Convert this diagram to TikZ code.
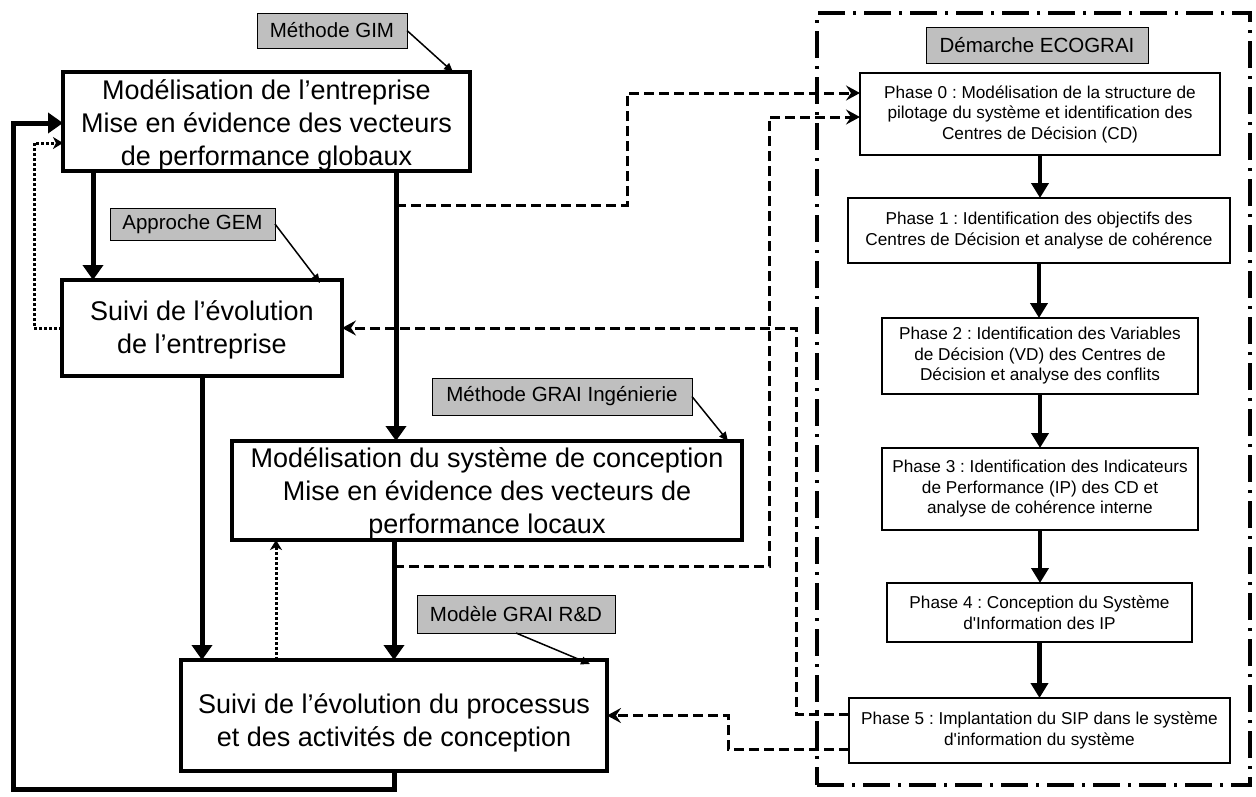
\documentclass[tikz,border=0pt]{standalone}
\usepackage{fontspec}
\setmainfont{Liberation Sans}
\newfontfamily\phasefont{Liberation Sans}[Ligatures=TeXOff]
\usetikzlibrary{arrows.meta,calc}
\frenchspacing
\newcommand\lowtext[2]{\raisebox{-#1}[\height][\depth]{\begin{tabular}{@{}c@{}}#2\end{tabular}}}
\tikzset{
 mainbox/.style={draw, line width=3.5pt, inner sep=0pt, outer sep=0pt, font=\fontsize{27}{33}\selectfont\frenchspacing},
 phasebox/.style={draw, line width=2pt, inner sep=0pt, outer sep=0pt, align=center, font=\phasefont\fontsize{17.2}{20.5}\selectfont\frenchspacing},
 tagbox/.style={draw, line width=1pt, fill=black!25, inner sep=0pt, outer sep=0pt, font=\fontsize{20.5}{24}\selectfont},
 bigarrow/.style={line width=5pt, -{Triangle[length=15pt,width=20pt]}},
 phasearrow/.style={line width=4.5pt, -{Triangle[length=15pt,width=17pt]}},
 dasharrow/.style={line width=3pt, dash pattern=on 10pt off 5pt, -{Stealth[length=14pt,width=15pt,inset=5pt]}},
 dotarrow/.style={line width=3pt, dash pattern=on 3pt off 2pt, -{Stealth[length=10pt,width=12pt,inset=3pt]}},
 thinarrow/.style={line width=1.5pt, -{Triangle[length=9pt,width=8pt]}},
 ecoframe/.style={draw, line width=3.5pt, inner sep=0pt, outer sep=0pt, dash pattern=on 27pt off 8pt on 3pt off 8pt},
}
\begin{document}
\begin{tikzpicture}[x=1pt,y=-1pt]
\useasboundingbox (0,0) rectangle (1256,796);

% frame of the ECOGRAI approach
\node[ecoframe, minimum width=433pt, minimum height=772pt] (eco) at (1033.5,399) {};

% main boxes
\node[mainbox, minimum width=407pt, minimum height=93pt] (A) at (266.5,121.5)
  {\lowtext{4pt}{Modélisation de l’entreprise\\Mise en évidence des vecteurs\\de performance globaux}};
\node[mainbox, minimum width=280pt, minimum height=96pt] (B) at (202,328)
  {\lowtext{2.5pt}{Suivi de l’évolution\\de l’entreprise}};
\node[mainbox, minimum width=510pt, minimum height=95pt] (C) at (487,490.5)
  {\lowtext{3pt}{Modélisation du système de conception\\Mise en évidence des vecteurs de\\performance locaux}};
\node[mainbox, minimum width=426pt, minimum height=111pt] (D) at (394,715.5)
  {\lowtext{8pt}{Suivi de l’évolution du processus\\et des activités de conception}};

% phase boxes
\node[phasebox, minimum width=360pt, minimum height=82pt] (P0) at (1040,114)
  {Phase 0 : Modélisation de la structure de\\pilotage du système et identification des\\Centres de Décision (CD)};
\node[phasebox, minimum width=382pt, minimum height=65pt] (P1) at (1039,230.5)
  {Phase 1 : Identification des objectifs des\\Centres de Décision et analyse de cohérence};
\node[phasebox, minimum width=316pt, minimum height=76pt] (P2) at (1040,356)
  {Phase 2 : Identification des Variables\\de Décision (VD) des Centres de\\Décision et analyse des conflits};
\node[phasebox, minimum width=316pt, minimum height=82pt] (P3) at (1040,489)
  {Phase 3 : Identification des Indicateurs\\de Performance (IP) des CD et\\analyse de cohérence interne};
\node[phasebox, minimum width=305pt, minimum height=59pt] (P4) at (1039.5,612.5)
  {Phase 4 : Conception du Système\\d'Information des IP};
\node[phasebox, minimum width=381pt, minimum height=65pt] (P5) at (1039.5,730.5)
  {Phase 5 : Implantation du SIP dans le système\\d'information du système};

% gray labels
\node[tagbox, minimum width=150pt, minimum height=35pt] (gim) at (332,30.5) {Méthode GIM};
\node[tagbox, minimum width=165pt, minimum height=32pt] (gem) at (192.5,224) {Approche GEM};
\node[tagbox, minimum width=260pt, minimum height=37pt] (ing) at (562,396.5) {Méthode GRAI Ingénierie};
\node[tagbox, minimum width=198pt, minimum height=38pt] (rd) at (516,614) {Modèle GRAI R\&D};
\node[tagbox, minimum width=222pt, minimum height=36pt] (ecolab) at (1037,45) {Démarche ECOGRAI};

% routing points
\coordinate (xa) at (93,0);
\coordinate (xb) at (396,0);
\coordinate (xd) at (276,0);
\coordinate (dA) at (34,143);
\coordinate (lp) at (13,789);
\coordinate (lA) at (13,123);
\coordinate (j1) at (396,205);
\coordinate (k1) at (627,93);
\coordinate (j2) at (394,566);
\coordinate (k2) at (769,117);
\coordinate (k3) at (796,714);
\coordinate (k5) at (728,749);

% thick arrows
\draw[bigarrow] (A.south -| xa) -- (B.north -| xa);
\draw[bigarrow] (A.south -| xb) -- (C.north -| xb);
\draw[bigarrow] (B.south) -- (D.north -| B.south);
\draw[bigarrow] (C.south -| D.north) -- (D.north);
\draw[bigarrow] (D.south) -- (D.south |- lp) -| (lA) -- (A.west |- lA);

% dotted feedback arrows
\draw[dotarrow] (D.north -| xd) -- (C.south -| xd);
\draw[dotarrow] (B.west) -| (dA) -- (A.west |- dA);

% dashed links with ECOGRAI
\draw[dasharrow] (j1) -| (k1) -- (P0.west |- k1);
\draw[dasharrow] (j2) -| (k2) -- (P0.west |- k2);
\draw[dasharrow] (P5.west |- k3) -- (k3) |- (B.east);
\draw[dasharrow] (P5.west |- k5) -- (k5) |- (D.east);

% phase sequence
\foreach \a/\b in {P0/P1,P1/P2,P2/P3,P3/P4,P4/P5}
  \draw[phasearrow] (\a.south) -- (\b.north -| \a.south);

% label pointers
\draw[thinarrow] (gim.east) -- ([xshift=-17pt]A.north east);
\draw[thinarrow] (gem.east) -- ([xshift=-22pt,yshift=-3pt]B.north east);
\draw[thinarrow] (ing.east) -- ([xshift=-14pt]C.north east);
\draw[thinarrow] (rd.south) -- ([xshift=-17pt,yshift=-4pt]D.north east);
\end{tikzpicture}
\end{document}
